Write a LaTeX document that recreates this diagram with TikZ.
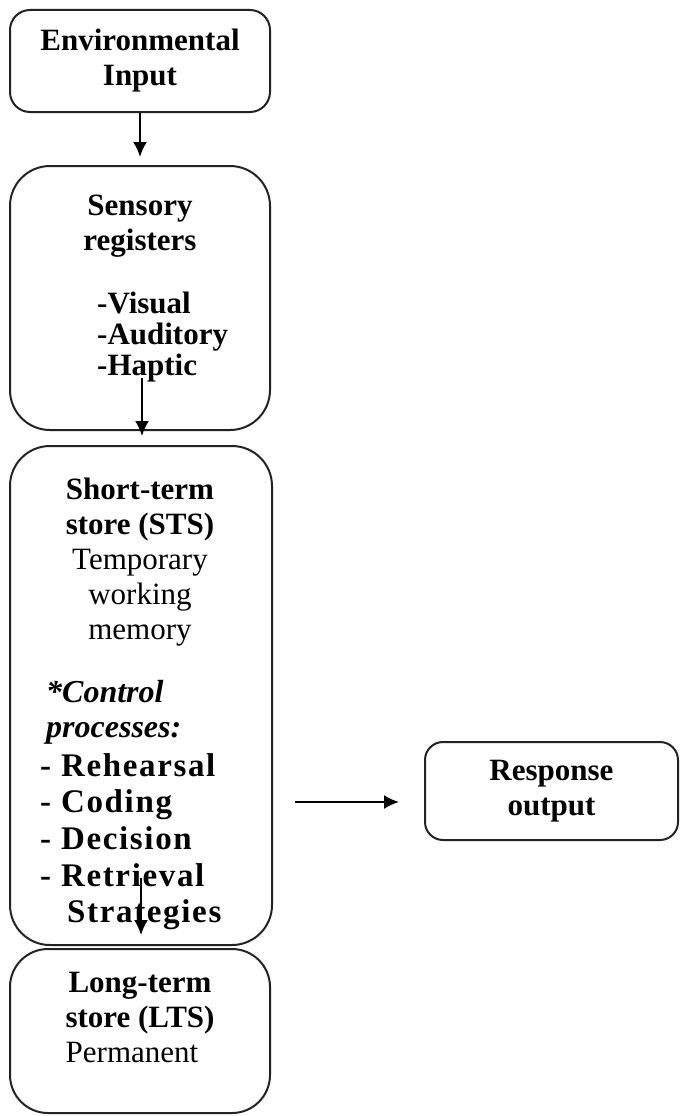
\documentclass[tikz,border=0pt]{standalone}
\usepackage{fontspec}
\setmainfont{Liberation Serif}
\newfontfamily\listserif[LetterSpace=5]{Liberation Serif}
\usetikzlibrary{arrows.meta}

\begin{document}
\begin{tikzpicture}[
  x=1pt, y=-1pt,
  boxnode/.style={draw={rgb,255:red,35;green,35;blue,35}, line width=2pt, inner sep=0pt},
  headtext/.style={font=\fontsize{31}{35}\selectfont\bfseries, align=center, inner sep=0pt, anchor=north},
  itemtext/.style={font=\fontsize{31}{31}\selectfont\bfseries, align=left, inner sep=0pt, anchor=north west},
  listtext/.style={font=\fontsize{33}{36.7}\listserif\bfseries, align=left, inner sep=0pt, anchor=north west},
  flow/.style={-{Latex[length=15pt,width=14pt]}, line width=2pt}
]
  \useasboundingbox (0,0) rectangle (680,1116);

  % Environmental input
  \node[boxnode, rounded corners=20pt, minimum width=260pt, minimum height=102pt,
        font=\fontsize{31}{35}\selectfont\bfseries, align=center] (env) at (140,61) {Environmental\\Input};

  % Sensory registers
  \node[boxnode, rounded corners=40pt, minimum width=260pt, minimum height=264pt] (sensory) at (140,298) {};
  \node[headtext] (sensoryhead) at (140,195) {Sensory\\registers};
  \node[itemtext] (sensoryitems) at (97,292) {-Visual\\-Auditory\\-Haptic};

  % Short-term store
  \node[boxnode, rounded corners=40pt, minimum width=262pt, minimum height=499pt] (sts) at (141,695.5) {};
  \node[headtext] (stshead) at (140,478) {Short-term\\store (STS)\\\mdseries Temporary\\\mdseries working\\\mdseries memory};
  \node[itemtext, font=\fontsize{32}{35}\selectfont\bfseries\itshape] (control) at (46,680) {*Control\\processes:};
  \node[listtext] (processes) at (40,753) {- Rehearsal\\- Coding\\- Decision\\- Retrieval\\\hspace*{27pt}Strategies};

  % Long-term store
  \node[boxnode, rounded corners=38pt, minimum width=260pt, minimum height=164pt] (lts) at (140,1031) {};
  \node[headtext] (ltshead) at (140,972) {Long-term\\store (LTS)\\\mdseries Permanent\hspace*{16pt}};

  % Response output
  \node[boxnode, rounded corners=18pt, minimum width=253pt, minimum height=98pt,
        font=\fontsize{31}{35}\selectfont\bfseries, align=center] (response) at (551.5,791) {Response\\output};

  % Arrows
  \coordinate (hapticmark) at (142,378);
  \coordinate (retrievalmark) at (141,878);
  \coordinate (outputmark) at (295,802);
  \draw[flow, shorten >=8pt] (env) -- (sensory);
  \draw[flow, shorten >=9pt] (hapticmark) -- (hapticmark |- sts.north);
  \draw[flow, shorten >=11pt] (retrievalmark) -- (sts.south);
  \draw[flow, shorten >=25pt] (outputmark) -- (outputmark -| response.west);
\end{tikzpicture}
\end{document}
